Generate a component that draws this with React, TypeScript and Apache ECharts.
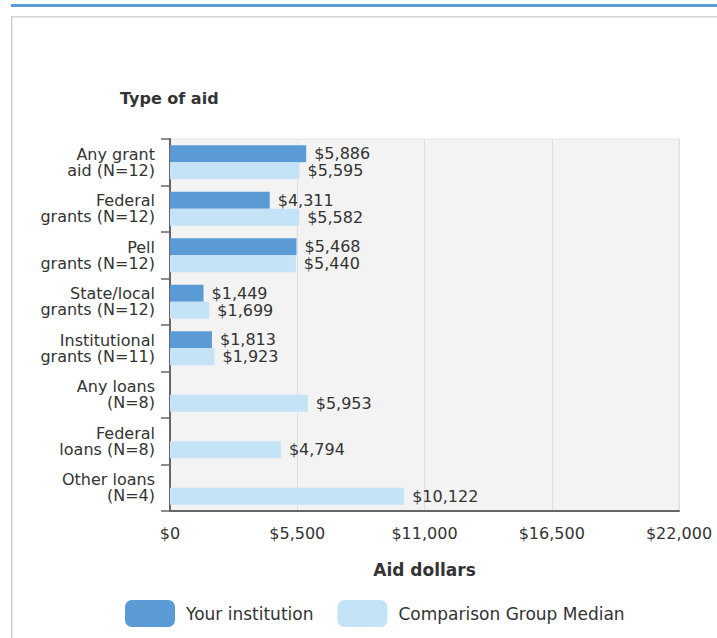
import React, { useEffect, useRef } from "react";
import * as echarts from "echarts";

const categories = [
  "Any grant\naid (N=12)",
  "Federal\ngrants (N=12)",
  "Pell\ngrants (N=12)",
  "State/local\ngrants (N=12)",
  "Institutional\ngrants (N=11)",
  "Any loans\n(N=8)",
  "Federal\nloans (N=8)",
  "Other loans\n(N=4)",
];
const yourInstitution: (number | null)[] = [5886, 4311, 5468, 1449, 1813, null, null, null];
const comparisonMedian: number[] = [5595, 5582, 5440, 1699, 1923, 5953, 4794, 10122];
const xTicks = { min: 0, max: 22000, interval: 5500 };

const FONT = "'DejaVu Sans', 'Liberation Sans', Arial, sans-serif";
const TEXT = "#333333";
const DARK = "#5b9bd5";
const LIGHT = "#c5e3f7";
const AXIS = "#666666";

const fmt = (v: number) => "$" + Math.round(v).toLocaleString("en-US");

export default function App() {
  const ref = useRef<HTMLDivElement>(null);
  useEffect(() => {
    document.body.style.margin = "0";
    if (!ref.current) return;
    const chart = echarts.init(ref.current, undefined, { renderer: "svg" });
    const valueLabel = {
      show: true,
      position: "right",
      distance: 8,
      fontSize: 16,
      lineHeight: 16,
      color: TEXT,
      fontFamily: FONT,
      formatter: (p: any) => fmt(p.value),
    };
    chart.setOption({
      animation: false,
      backgroundColor: "#ffffff",
      textStyle: { fontFamily: FONT, color: TEXT },
      graphic: [
        { type: "rect", shape: { x: 11, y: 4, width: 706, height: 3 }, style: { fill: DARK } },
        { type: "rect", shape: { x: 11, y: 16, width: 706, height: 1.5 }, style: { fill: "#d3d3d3" } },
        { type: "rect", shape: { x: 11, y: 16, width: 1.5, height: 622 }, style: { fill: "#d3d3d3" } },
        {
          type: "text",
          x: 120,
          y: 90,
          style: { text: "Type of aid", font: `bold 16px ${FONT}`, fill: TEXT },
        },
      ],
      legend: {
        left: 120,
        top: 595,
        itemWidth: 50,
        itemHeight: 27,
        itemGap: 24,
        icon: "roundRect",
        textStyle: { fontSize: 17, color: TEXT, fontFamily: FONT, padding: [0, 0, 0, 6] },
        data: ["Your institution", "Comparison Group Median"],
      },
      grid: {
        left: 170,
        top: 139,
        right: 38,
        bottom: 127,
        show: true,
        backgroundColor: "#f3f3f3",
        borderColor: "#e4e4e4",
        borderWidth: 1,
      },
      xAxis: {
        type: "value",
        min: xTicks.min,
        max: xTicks.max,
        interval: xTicks.interval,
        name: "Aid dollars",
        nameLocation: "middle",
        nameGap: 50,
        nameTextStyle: { fontSize: 17, fontWeight: "bold", color: TEXT, fontFamily: FONT },
        axisLine: { show: true, lineStyle: { color: AXIS, width: 2 } },
        axisTick: { show: false },
        axisLabel: { formatter: (v: number) => fmt(v), fontSize: 16, color: TEXT, margin: 14, fontFamily: FONT },
        splitLine: { show: true, lineStyle: { color: "#d9e0ea", width: 1 } },
      },
      yAxis: {
        type: "category",
        inverse: true,
        data: categories,
        axisLine: { show: true, lineStyle: { color: AXIS, width: 2 } },
        axisTick: { show: true, length: 9, interval: 0, lineStyle: { color: AXIS, width: 1.5 } },
        axisLabel: {
          fontSize: 16,
          lineHeight: 16,
          color: TEXT,
          margin: 15,
          align: "right",
          interval: 0,
          fontFamily: FONT,
        },
        splitLine: { show: false },
      },
      series: [
        {
          name: "Your institution",
          type: "bar",
          data: yourInstitution.map((v) => (v === null ? "-" : v)),
          barWidth: 17,
          barGap: "0%",
          itemStyle: { color: DARK },
          label: valueLabel,
        },
        {
          name: "Comparison Group Median",
          type: "bar",
          data: comparisonMedian,
          barWidth: 17,
          barGap: "0%",
          itemStyle: { color: LIGHT },
          label: valueLabel,
        },
      ],
    });
    return () => chart.dispose();
  }, []);
  return <div ref={ref} style={{ width: 717, height: 638 }} />;
}
